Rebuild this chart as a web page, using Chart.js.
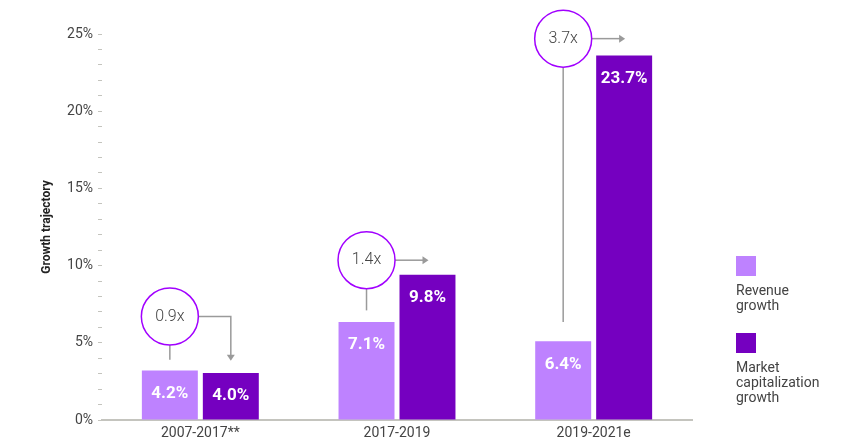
<!DOCTYPE html>
<html>
<head>
<meta charset="utf-8">
<script src="https://cdn.jsdelivr.net/npm/chart.js@4"></script>
<style>
  html, body { margin: 0; padding: 0; background: #fff; }
  #wrap { width: 841px; height: 448px; }
</style>
</head>
<body>
<div id="wrap"><canvas id="growthChart" width="841" height="448"></canvas></div>
<script>
// Periodos
const periods = ['2007-2017**', '2017-2019', '2019-2021e'];
// Alturas de barra tal como se ven en el gráfico (%)
const revenueValues = [3.2, 6.35, 5.1];
const marketCapValues = [3.05, 9.4, 23.6];
// Etiquetas impresas sobre las barras
const revenueLabels = ['4.2%', '7.1%', '6.4%'];
const marketCapLabels = ['4.0%', '9.8%', '23.7%'];
// Múltiplos en los círculos
const multiples = ['0.9x', '1.4x', '3.7x'];
// Niveles (en %) del centro del círculo y del final del trazo
const circleLevels = [6.7, 10.35, 24.7];
const stemLevels = [3.9, 7.1, 6.35];
const yTicks = [0, 5, 10, 15, 20, 25];

const colors = {
    revenue: '#be82ff',   // Lila
    marketCap: '#7500c0', // Morado
    ring: '#a100ff',
    line: '#9a9a9a',
    axis: '#c4c4be',
    text: '#444'
};

// Dibuja círculos, flechas, etiquetas y la leyenda
const annotations = {
    id: 'annotations',
    afterDatasetsDraw(chart) {
        const ctx = chart.ctx;
        const y = chart.scales.y;
        const revMeta = chart.getDatasetMeta(0);
        const capMeta = chart.getDatasetMeta(1);

        // Etiquetas blancas dentro de las barras
        ctx.save();
        ctx.fillStyle = '#fff';
        ctx.font = 'bold 17px Roboto';
        ctx.textAlign = 'center';
        ctx.textBaseline = 'middle';
        revMeta.data.forEach((bar, i) => ctx.fillText(revenueLabels[i], bar.x, bar.y + 23));
        capMeta.data.forEach((bar, i) => ctx.fillText(marketCapLabels[i], bar.x, bar.y + 23));
        ctx.restore();

        const r = 28.5;
        periods.forEach((p, i) => {
            const cx = revMeta.data[i].x;
            const cy = y.getPixelForValue(circleLevels[i]);
            const stemY = y.getPixelForValue(stemLevels[i]);
            const ax = capMeta.data[i].x;

            ctx.save();
            ctx.strokeStyle = colors.line;
            ctx.fillStyle = colors.line;
            ctx.lineWidth = 1.5;
            // trazo vertical hacia la barra de ingresos
            ctx.beginPath();
            ctx.moveTo(cx, cy + r);
            ctx.lineTo(cx, stemY);
            ctx.stroke();
            // flecha
            ctx.beginPath();
            ctx.moveTo(cx + r, cy);
            if (i === 0) {
                ctx.lineTo(ax, cy);
                ctx.lineTo(ax, stemY - 4);
                ctx.stroke();
                ctx.beginPath();
                ctx.moveTo(ax - 4, stemY - 5);
                ctx.lineTo(ax + 4, stemY - 5);
                ctx.lineTo(ax, stemY + 1);
                ctx.closePath();
                ctx.fill();
            } else {
                ctx.lineTo(ax - 4, cy);
                ctx.stroke();
                ctx.beginPath();
                ctx.moveTo(ax - 5, cy - 4);
                ctx.lineTo(ax - 5, cy + 4);
                ctx.lineTo(ax + 1, cy);
                ctx.closePath();
                ctx.fill();
            }
            // círculo
            ctx.beginPath();
            ctx.arc(cx, cy, r, 0, Math.PI * 2);
            ctx.fillStyle = '#fff';
            ctx.fill();
            ctx.strokeStyle = colors.ring;
            ctx.lineWidth = 1.5;
            ctx.stroke();
            ctx.fillStyle = colors.text;
            ctx.font = '300 16px Roboto';
            ctx.textAlign = 'center';
            ctx.textBaseline = 'middle';
            ctx.fillText(multiples[i], cx, cy);
            ctx.restore();
        });

        // Leyenda
        const legend = [
            { color: colors.revenue, lines: ['Revenue', 'growth'], top: 256 },
            { color: colors.marketCap, lines: ['Market', 'capitalization', 'growth'], top: 333 }
        ];
        ctx.save();
        ctx.font = '14px Roboto';
        ctx.textAlign = 'left';
        ctx.textBaseline = 'middle';
        legend.forEach(item => {
            ctx.fillStyle = item.color;
            ctx.fillRect(736, item.top, 20, 20);
            ctx.fillStyle = colors.text;
            item.lines.forEach((t, k) => ctx.fillText(t, 736, item.top + 35 + k * 15));
        });
        ctx.restore();
    }
};

const ctx = document.getElementById('growthChart').getContext('2d');
new Chart(ctx, {
    type: 'bar',
    data: {
        labels: periods,
        datasets: [
            { label: 'Revenue growth', data: revenueValues, backgroundColor: colors.revenue },
            { label: 'Market capitalization growth', data: marketCapValues, backgroundColor: colors.marketCap }
        ]
    },
    options: {
        responsive: false,
        animation: false,
        categoryPercentage: 0.62,
        barPercentage: 0.918,
        layout: { padding: { top: 34, right: 149, bottom: 0, left: 0 } },
        plugins: {
            legend: { display: false },
            tooltip: { enabled: false }
        },
        scales: {
            x: {
                grid: { display: false, drawTicks: false },
                border: { display: true, color: colors.axis, width: 2 },
                ticks: { color: colors.text, font: { family: 'Roboto', size: 14 }, padding: 5 },
                afterFit(scale) { scale.height = 28; }
            },
            y: {
                min: 0,
                max: 25,
                border: { display: false },
                grid: { drawOnChartArea: false, drawTicks: true, tickLength: 4, color: colors.axis, lineWidth: 1 },
                ticks: {
                    stepSize: 1,
                    autoSkip: false,
                    padding: 5,
                    color: colors.text,
                    font: { family: 'Roboto', size: 14 },
                    callback: v => yTicks.includes(v) ? v + '%' : ''
                },
                title: {
                    display: true,
                    text: 'Growth trajectory',
                    color: '#222',
                    font: { family: 'Roboto', size: 12, weight: 'bold' },
                    padding: { top: 40, bottom: 0 }
                },
                afterFit(scale) { scale.width = 102; }
            }
        }
    },
    plugins: [annotations]
});
</script>
</body>
</html>
